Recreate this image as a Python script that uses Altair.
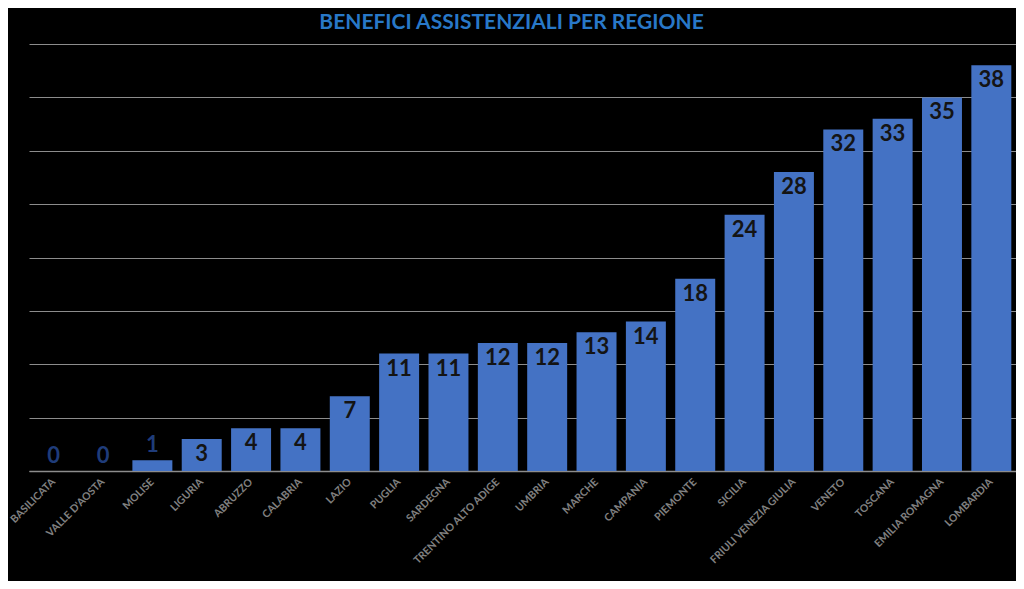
import altair as alt
import pandas as pd

regions = ["BASILICATA", "VALLE D'AOSTA", "MOLISE", "LIGURIA", "ABRUZZO", "CALABRIA", "LAZIO",
           "PUGLIA", "SARDEGNA", "TRENTINO ALTO ADIGE", "UMBRIA", "MARCHE", "CAMPANIA", "PIEMONTE",
           "SICILIA", "FRIULI VENEZIA GIULIA", "VENETO", "TOSCANA", "EMILIA ROMAGNA", "LOMBARDIA"]
values = [0, 0, 1, 3, 4, 4, 7, 11, 11, 12, 12, 13, 14, 18, 24, 28, 32, 33, 35, 38]

df = pd.DataFrame({"regione": regions, "valore": values})

x_enc = alt.X("regione:N", sort=regions, title=None,
              scale=alt.Scale(paddingInner=0.19, paddingOuter=0.095),
              axis=alt.Axis(labelAngle=-45, labelAlign="right", labelBaseline="middle",
                            labelColor="#808080", labelFont="Lato", labelFontWeight="bold",
                            labelFontSize=10.5, labelPadding=9, ticks=False, labelLimit=200,
                            domainColor="#8c8c8c", domainWidth=1.5, grid=False, labelOverlap=False))
y_enc = alt.Y("valore:Q", title=None,
              scale=alt.Scale(domain=[0, 40], nice=False),
              axis=alt.Axis(values=[0, 5, 10, 15, 20, 25, 30, 35, 40], labels=False, ticks=False,
                            domain=False, grid=True, gridColor="#8c8c8c", gridWidth=1))

base = alt.Chart(df)

bars = base.mark_bar(color="#4472C4").encode(x=x_enc, y=y_enc)

inside = base.transform_filter("datum.valore >= 3").mark_text(
    baseline="top", dy=5, font="Lato", fontWeight="bold", fontSize=22, color="#141414"
).encode(x=alt.X("regione:N", sort=regions), y="valore:Q", text="valore:Q")

above = base.transform_filter("datum.valore < 3").mark_text(
    baseline="bottom", dy=-3, font="Lato", fontWeight="bold", fontSize=22, color="#1F3C7A"
).encode(x=alt.X("regione:N", sort=regions), y="valore:Q", text="valore:Q")

chart = (bars + inside + above).properties(
    width=987, height=427,
    background="black",
    autosize=alt.AutoSizeParams(type="none"),
    padding={"left": 21, "top": 36, "right": 0, "bottom": 110},
    title=alt.TitleParams("BENEFICI ASSISTENZIALI PER REGIONE", font="Lato", fontWeight="bold",
                          fontSize=21, color="#2878C8", anchor="middle", dx=-11, offset=11),
).configure_view(stroke=None)

chart.save("out.html", embed_options={"renderer": "svg", "actions": False})
